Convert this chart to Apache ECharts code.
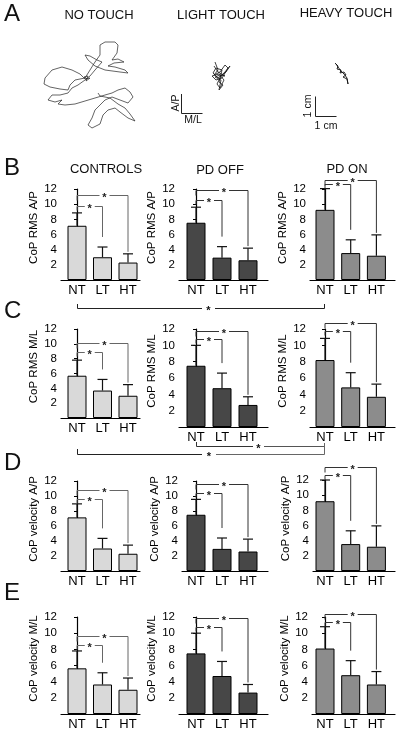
<!DOCTYPE html>
<html><head><meta charset="utf-8">
<script src="https://cdn.jsdelivr.net/npm/echarts@6/dist/echarts.min.js"></script>
<style>html,body{margin:0;padding:0;background:#fff}#c{width:400px;height:733px}</style>
</head><body><div id="c"></div><script>
const FONT = '"Liberation Sans", Arial, Helvetica, sans-serif';

const groups = ['CONTROLS', 'PD OFF', 'PD ON'];
const conditions = ['NT', 'LT', 'HT'];
const measures = ['CoP RMS A/P', 'CoP RMS M/L', 'CoP velocity A/P', 'CoP velocity M/L'];
const touchTitles = ['NO TOUCH', 'LIGHT TOUCH', 'HEAVY TOUCH'];
const panelLetters = ['A', 'B', 'C', 'D', 'E'];
const yTickStep = 2;
const yMax = 12;

// B: CoP RMS A/P (mean, SD)
const rmsAP_controls_mean = [7.15, 3.0, 2.3];
const rmsAP_controls_sd   = [1.7, 1.35, 1.15];
const rmsAP_pdoff_mean    = [7.55, 2.95, 2.6];
const rmsAP_pdoff_sd      = [2.05, 1.45, 1.6];
const rmsAP_pdon_mean     = [9.25, 3.55, 3.2];
const rmsAP_pdon_sd       = [2.8, 1.75, 2.75];
// C: CoP RMS M/L
const rmsML_controls_mean = [5.7, 3.7, 3.0];
const rmsML_controls_sd   = [2.1, 1.5, 1.5];
const rmsML_pdoff_mean    = [7.5, 4.75, 2.7];
const rmsML_pdoff_sd      = [2.5, 1.85, 1.0];
const rmsML_pdon_mean     = [8.2, 4.85, 3.7];
const rmsML_pdon_sd       = [2.65, 1.8, 1.55];
// D: CoP velocity A/P
const velAP_controls_mean = [7.15, 3.0, 2.3];
const velAP_controls_sd   = [1.8, 1.35, 1.15];
const velAP_pdoff_mean    = [7.5, 2.95, 2.6];
const velAP_pdoff_sd      = [2.05, 1.45, 1.65];
const velAP_pdon_mean     = [9.2, 3.55, 3.2];
const velAP_pdon_sd       = [2.8, 1.75, 2.75];
// E: CoP velocity M/L
const velML_controls_mean = [5.65, 3.65, 3.0];
const velML_controls_sd   = [2.15, 1.45, 1.45];
const velML_pdoff_mean    = [7.5, 4.7, 2.65];
const velML_pdoff_sd      = [2.5, 1.8, 1.0];
const velML_pdon_mean     = [8.1, 4.8, 3.65];
const velML_pdon_sd       = [2.7, 1.8, 1.6];

// A: CoP trajectories (cm)
const traceNoTouch = [[4.35,3.55],[4.20,3.65],[4.40,3.70],[4.30,3.45],[4.50,3.60],[4.25,3.55],[4.00,3.80],[3.60,4.00],[3.10,4.15],[2.60,4.00],[2.25,3.60],[2.20,3.30],[2.50,3.15],[3.00,3.05],[3.40,3.00],[3.50,3.25],[3.75,3.50],[4.25,3.60],[4.50,4.00],[4.75,4.40],[5.00,4.75],[5.00,5.25],[5.25,5.40],[5.75,5.40],[5.90,5.25],[5.85,4.85],[5.60,4.50],[5.90,4.55],[6.20,4.40],[5.70,4.35],[5.40,4.20],[5.75,4.15],[6.25,4.00],[6.40,3.85],[6.00,3.90],[5.25,4.00],[4.75,4.20],[4.40,4.50],[4.25,4.75],[4.50,4.70],[4.85,4.50],[5.10,4.40],[4.75,4.00],[4.50,3.70],[4.25,3.50],[3.90,3.25],[3.60,3.10],[3.40,2.85],[3.00,2.75],[2.60,2.75],[2.40,2.50],[2.75,2.40],[3.10,2.50],[2.90,2.30],[3.25,2.25],[3.75,2.30],[4.25,2.45],[4.75,2.60],[5.25,2.75],[5.60,2.85],[5.90,3.00],[6.25,3.10],[6.50,2.90],[6.65,2.65],[6.40,2.35],[6.00,2.50],[5.60,2.65],[5.25,2.50],[5.00,2.25],[4.75,2.00],[4.60,1.60],[4.40,1.25],[4.60,1.10],[5.00,1.30],[5.15,1.75],[5.40,2.00],[5.75,2.10],[6.00,1.90],[6.40,1.60],[6.75,1.45],[6.50,1.80],[6.25,2.10],[5.90,2.30],[5.50,2.60],[5.00,2.70],[4.90,2.85]];
const traceLightTouch = [[10.75,4.40],[10.90,4.00],[10.70,3.75],[11.00,3.90],[11.25,4.25],[11.40,4.10],[11.10,3.60],[10.80,3.50],[10.60,3.70],[10.95,3.80],[11.20,3.50],[11.00,3.10],[10.85,3.30],[11.05,3.70],[11.30,3.90],[11.50,4.20],[11.20,3.85],[10.90,3.60],[10.65,3.85],[10.80,4.10],[11.10,4.00],[10.95,3.40],[11.15,3.25],[10.95,3.00],[11.05,3.50],[10.75,3.65],[11.00,3.75],[11.25,3.70],[10.90,3.90],[10.70,4.20]];
const traceHeavyTouch = [[16.75,4.35],[16.90,4.20],[16.85,4.05],[17.05,4.00],[17.00,3.85],[17.20,3.90],[17.30,3.75],[17.15,3.65],[17.35,3.55],[17.25,3.45],[17.45,3.50],[17.40,3.30],[17.50,3.20],[17.35,3.60],[17.20,3.80],[17.05,3.95],[16.90,4.15],[16.80,4.30]];

const statsByRow = [
  [[rmsAP_controls_mean, rmsAP_controls_sd], [rmsAP_pdoff_mean, rmsAP_pdoff_sd], [rmsAP_pdon_mean, rmsAP_pdon_sd]],
  [[rmsML_controls_mean, rmsML_controls_sd], [rmsML_pdoff_mean, rmsML_pdoff_sd], [rmsML_pdon_mean, rmsML_pdon_sd]],
  [[velAP_controls_mean, velAP_controls_sd], [velAP_pdoff_mean, velAP_pdoff_sd], [velAP_pdon_mean, velAP_pdon_sd]],
  [[velML_controls_mean, velML_controls_sd], [velML_pdoff_mean, velML_pdoff_sd], [velML_pdon_mean, velML_pdon_sd]]
];

// layout (pixels)
const cols = [
  {nt: 77, step: 25.5, right: 140, fill: '#d9d9d9', bracket: '#666'},
  {nt: 196, step: 26, right: 268, fill: '#474747', bracket: '#333'},
  {nt: 325, step: 25.7, right: 395, fill: '#8c8c8c', bracket: '#333'}
];
const rows = [
  {top: [189,189,189], bottom: [280,280,280], left: [61,179,310], br: [[7,18],[7,17],[5,9]]},
  {top: [329,329,329], bottom: [418,427,427], left: [61,179,310], br: [[8,17],[6,14],[7,15]]},
  {top: [481,481,480], bottom: [571,571,571], left: [61,182,313], br: [[5,14],[6,15],[5,13]]},
  {top: [617,617,617], bottom: [714,714,714], left: [61,179,312], br: [[6,15],[6,15],[5,13]]}
];

const grid = [], xAxis = [], yAxis = [], series = [];

rows.forEach((row, r) => {
  cols.forEach((col, c) => {
    const idx = grid.length;
    const L = row.left[c], T = row.top[c], B = row.bottom[c], R = col.right;
    grid.push({left: L, top: T, width: R - L, height: B - T, containLabel: false, outerBoundsMode: 'none'});
    xAxis.push({
      gridIndex: idx, type: 'value',
      min: -(col.nt - L) / col.step,
      max: 2 + (R - (col.nt + 2 * col.step)) / col.step,
      axisLine: {show: true, onZero: false, lineStyle: {color: '#000', width: 1.2}},
      axisTick: {show: false}, splitLine: {show: false},
      axisLabel: {customValues: [0, 1, 2], formatter: v => conditions[Math.round(v)] || '',
        fontSize: 13, color: '#000', margin: 4, fontFamily: FONT}
    });
    yAxis.push({
      gridIndex: idx, type: 'value', min: 0, max: yMax, interval: yTickStep,
      name: measures[r], nameLocation: 'middle', nameGap: 18,
      nameTextStyle: {fontSize: 11.5, color: '#000', fontFamily: FONT, padding: [0, 0, 0, 14]},
      axisLine: {show: true, lineStyle: {color: '#000', width: 1.2}},
      axisTick: {show: true, length: 3, lineStyle: {color: '#000'}},
      axisLabel: {fontSize: 11.5, color: '#000', margin: 4, showMinLabel: false, fontFamily: FONT},
      splitLine: {show: false}
    });
    const mean = statsByRow[r][c][0], sd = statsByRow[r][c][1];
    series.push({
      type: 'bar', xAxisIndex: idx, yAxisIndex: idx, barWidth: 19, silent: true,
      data: mean.map((v, i) => [i, v]),
      itemStyle: {color: col.fill, borderColor: '#000', borderWidth: 1}
    });
    series.push({
      type: 'custom', xAxisIndex: idx, yAxisIndex: idx, silent: true, z: 3,
      data: mean.map((v, i) => [i, v, v + sd[i]]),
      renderItem: (params, api) => {
        const x = api.value(0);
        const p0 = api.coord([x, api.value(1)]);
        const p1 = api.coord([x, api.value(2)]);
        const st = {stroke: '#111', lineWidth: 1.2};
        return {type: 'group', children: [
          {type: 'line', shape: {x1: p0[0], y1: p0[1], x2: p1[0], y2: p1[1]}, style: st},
          {type: 'line', shape: {x1: p1[0] - 5, y1: p1[1], x2: p1[0] + 5, y2: p1[1]}, style: st}
        ]};
      }
    });
    const off = row.br[c];
    series.push({
      type: 'custom', xAxisIndex: idx, yAxisIndex: idx, silent: true, z: 4, clip: false,
      data: [[0]],
      renderItem: (params, api) => {
        const tops = mean.map((v, i) => api.coord([i, v + sd[i]]));
        const nx = tops[0][0], lx = tops[1][0], hx = tops[2][0];
        const yl = Math.round(tops[0][1] - off[0]) + 0.5;
        const yh = Math.round(tops[0][1] - off[1]) + 0.5;
        const sl = (nx + lx) / 2, sh = (nx + hx) / 2 + 2;
        const st = {stroke: col.bracket, lineWidth: 1, fill: null};
        const star = (x, y) => ({type: 'text', style: {text: '*', x: x, y: y + 2.5,
          align: 'center', verticalAlign: 'middle', textAlign: 'center', textVerticalAlign: 'middle',
          font: 'bold 11px ' + FONT, fill: '#222'}});
        return {type: 'group', children: [
          {type: 'polyline', shape: {points: [[nx, yl + 4], [nx, yl], [sl - 5, yl]]}, style: st},
          {type: 'polyline', shape: {points: [[sl + 5, yl], [lx, yl], [lx, tops[1][1] - 10]]}, style: st},
          {type: 'polyline', shape: {points: [[nx, yh + 5], [nx, yh], [sh - 5, yh]]}, style: st},
          {type: 'polyline', shape: {points: [[sh + 5, yh], [hx, yh], [hx, tops[2][1] - 2]]}, style: st},
          star(sl, yl), star(sh, yh)
        ]};
      }
    });
  });
});

// trajectory grid (1 cm = 20 px)
const tIdx = grid.length;
grid.push({left: 0, top: 0, width: 400, height: 150, containLabel: false, outerBoundsMode: 'none'});
xAxis.push({gridIndex: tIdx, type: 'value', min: 0, max: 20, show: false});
yAxis.push({gridIndex: tIdx, type: 'value', min: 0, max: 7.5, show: false});
[[traceNoTouch, 0.7, '#222'], [traceLightTouch, 0.8, '#111'], [traceHeavyTouch, 0.9, '#111']].forEach(t => {
  series.push({type: 'line', xAxisIndex: tIdx, yAxisIndex: tIdx, data: t[0], showSymbol: false, silent: true,
    lineStyle: {width: t[1], color: t[2]}});
});

function txt(s, x, y, size, opts) {
  opts = opts || {};
  return {type: 'text', x: x, y: y, rotation: opts.rot || 0, z: 10, silent: true,
    style: {text: s, fill: '#111', font: (opts.weight || 'normal') + ' ' + size + 'px ' + FONT,
      align: opts.align || 'center', verticalAlign: 'middle',
      textAlign: opts.align || 'center', textVerticalAlign: 'middle'}};
}
function pl(points, color) {
  return {type: 'polyline', z: 10, silent: true, shape: {points: points}, style: {stroke: color || '#333', lineWidth: 1, fill: null}};
}

const graphic = [
  txt(panelLetters[0], 4, 14, 24, {align: 'left'}),
  txt(panelLetters[1], 4, 168, 24, {align: 'left'}),
  txt(panelLetters[2], 4, 311, 24, {align: 'left'}),
  txt(panelLetters[3], 4, 463, 24, {align: 'left'}),
  txt(panelLetters[4], 4, 593, 24, {align: 'left'}),
  txt(touchTitles[0], 99, 15.5, 13),
  txt(touchTitles[1], 221, 15.5, 13),
  txt(touchTitles[2], 346, 13.5, 13),
  txt(groups[0], 106, 169, 13),
  txt(groups[1], 220, 170.5, 13),
  txt(groups[2], 347, 169.5, 13),
  // scale bars
  pl([[181.5, 94], [181.5, 113.5], [202.5, 113.5]], '#222'),
  txt('A/P', 176, 103, 10.5, {rot: Math.PI / 2}),
  txt('M/L', 193, 120.5, 10.5),
  pl([[315.5, 96.5], [315.5, 116.5], [336.5, 116.5]], '#222'),
  txt('1 cm', 308.5, 106, 10.5, {rot: Math.PI / 2}),
  txt('1 cm', 326, 126, 10.5),
  // between-group comparisons
  pl([[77.5, 304], [77.5, 308.5], [202, 308.5]], '#222'),
  pl([[215, 308.5], [324.5, 308.5], [324.5, 304]], '#222'),
  txt('*', 208.5, 311, 11, {weight: 'bold'}),
  pl([[196.5, 442], [196.5, 446.5], [253, 446.5]], '#333'),
  pl([[264, 446.5], [324.5, 446.5]], '#555'),
  txt('*', 258.5, 449, 11, {weight: 'bold'}),
  pl([[77.5, 449], [77.5, 454.5], [202, 454.5]], '#222'),
  pl([[216, 454.5], [324.5, 454.5], [324.5, 443]], '#666'),
  txt('*', 209, 457, 11, {weight: 'bold'})
];

const chart = echarts.init(document.getElementById('c'), null, {renderer: 'canvas'});
chart.setOption({
  animation: false,
  backgroundColor: '#fff',
  textStyle: {fontFamily: FONT},
  grid: grid, xAxis: xAxis, yAxis: yAxis, series: series, graphic: graphic
});
</script></body></html>
